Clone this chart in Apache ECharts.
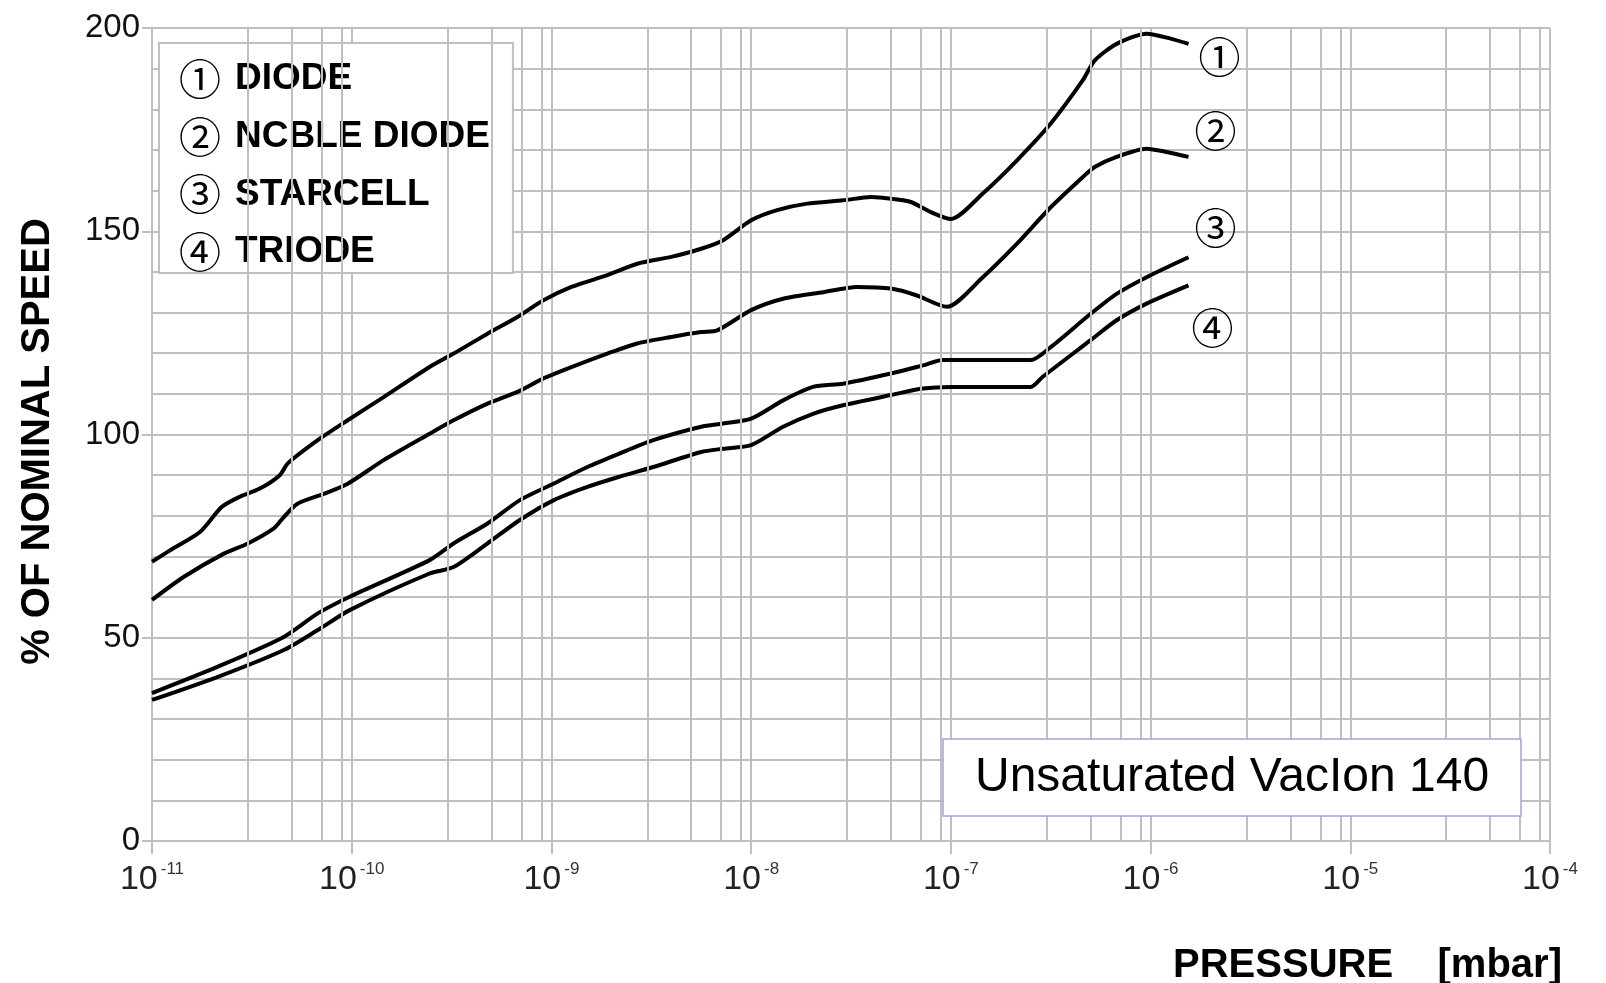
<!DOCTYPE html>
<html><head><meta charset="utf-8">
<script src="https://cdn.jsdelivr.net/npm/echarts@6/dist/echarts.min.js"></script>
<style>html,body{margin:0;padding:0;background:#fff}#c{width:1606px;height:983px}</style>
</head><body><div id="c"></div>
<script>
// x = log10(pressure in mbar), y = % of nominal speed
const seriesNames = ['DIODE', 'NCBLE DIODE', 'STARCELL', 'TRIODE'];
const seriesMarks = ['①', '②', '③', '④'];
const diode = [[-11,68.7],[-10.91,71.5],[-10.76,76],[-10.65,82.2],[-10.56,84.7],[-10.46,86.7],[-10.36,90],[-10.32,92.9],[-10.17,98.6],[-10.02,103.5],[-9.84,109.2],[-9.61,116.6],[-9.49,119.9],[-9.32,124.8],[-9.17,128.9],[-9.04,133],[-8.9,136.3],[-8.72,139.2],[-8.57,142],[-8.4,143.7],[-8.25,145.7],[-8.14,147.8],[-8.0,152.7],[-7.87,155.2],[-7.72,156.8],[-7.54,157.6],[-7.4,158.4],[-7.3,158],[-7.2,157.2],[-7.1,154.7],[-7.0,153],[-6.84,159.3],[-6.67,167.4],[-6.5,176.5],[-6.34,187.1],[-6.28,192],[-6.17,196.1],[-6.02,198.6],[-5.9,197.4],[-5.81,196.1]];
const nobleDiode = [[-11,59.3],[-10.84,65],[-10.64,70.7],[-10.52,73.2],[-10.39,76.9],[-10.34,79.7],[-10.27,83],[-10.14,85.4],[-10.02,87.9],[-9.84,93.7],[-9.61,100.2],[-9.49,103.5],[-9.32,107.6],[-9.17,110.5],[-9.04,113.8],[-8.9,116.6],[-8.72,119.9],[-8.57,122.4],[-8.4,124],[-8.25,125.2],[-8.17,125.6],[-8.0,130.6],[-7.84,133.4],[-7.64,135],[-7.47,136.3],[-7.3,135.9],[-7.17,134.2],[-7.02,131.4],[-6.84,138.7],[-6.67,146.9],[-6.5,155.9],[-6.34,163.3],[-6.28,165.8],[-6.17,168.3],[-6.02,170.3],[-5.92,169.5],[-5.81,168.3]];
const starcell = [[-11,36.4],[-10.67,42.9],[-10.34,50.2],[-10.17,56],[-10.01,60.1],[-9.61,69.1],[-9.49,73.2],[-9.32,78.1],[-9.16,83.8],[-8.99,87.9],[-8.82,92],[-8.66,95.3],[-8.49,98.6],[-8.25,101.9],[-8.14,102.7],[-8.0,103.9],[-7.84,108.4],[-7.69,111.7],[-7.54,112.5],[-7.3,115],[-7.14,117],[-7.04,118.3],[-6.6,118.3],[-6.5,121.5],[-6.3,129.7],[-6.17,134.6],[-6.02,138.7],[-5.81,143.6]];
const triode = [[-11,34.7],[-10.67,40.4],[-10.34,47],[-10.17,51.9],[-10.01,56.8],[-9.61,65.8],[-9.49,67.4],[-9.32,73.2],[-9.16,78.9],[-8.99,83.8],[-8.82,87.1],[-8.66,89.6],[-8.49,92],[-8.25,95.7],[-8.14,96.5],[-8.0,97.4],[-7.84,101.9],[-7.69,105.1],[-7.54,107.2],[-7.3,109.7],[-7.14,111.3],[-7.0,111.7],[-6.6,111.7],[-6.54,114.2],[-6.3,123.2],[-6.17,128.1],[-6.02,132.2],[-5.81,136.7]];
const decadeMin = -11, decadeMax = -4;
const minorMultipliers = [3, 5, 7, 9];
const boxLabel = 'Unsaturated VacIon 140';
const xTitle = 'PRESSURE    [mbar]';
const yTitle = '% OF NOMINAL SPEED';

const FONT = "'Liberation Sans', Arial, sans-serif";
const CIRC = "'Noto Sans CJK JP', 'DejaVu Sans', sans-serif";
const GRID = '#bfbfbf';
const curves = [diode, nobleDiode, starcell, triode];
const endOffsets = [[31, 13], [27, -26], [27, -29], [24, 43]];

const minorLines = [];
for (let d = decadeMin; d < decadeMax; d++) {
  for (const m of minorMultipliers) minorLines.push({ xAxis: d + Math.log10(m) });
}

const chart = echarts.init(document.getElementById('c'), null, { renderer: 'canvas' });
chart.setOption({
  animation: false,
  backgroundColor: '#fff',
  grid: { left: 152, right: 56, top: 28, bottom: 142 },
  title: [
    { text: boxLabel, left: 943, top: 739, padding: [15, 32, 14, 32], borderColor: '#a3a3e0', borderWidth: 1.5,
      backgroundColor: '#fff', textStyle: { fontFamily: FONT, fontWeight: 'normal', fontSize: 48, color: '#000', lineHeight: 48 } },
    { text: xTitle, right: 44, top: 946, padding: 0,
      textStyle: { fontFamily: FONT, fontWeight: 'bold', fontSize: 40, color: '#000' } }
  ],
  legend: {
    data: seriesNames, orient: 'vertical', left: 159, top: 43, padding: [15, 23, 0, 15], itemGap: 15.7,
    itemWidth: 0, itemHeight: 0, icon: 'rect', selectedMode: false,
    backgroundColor: '#fff', borderColor: GRID, borderWidth: 2,
    formatter: name => `{c|${seriesMarks[seriesNames.indexOf(name)]}}{t|${name}}`,
    textStyle: {
      color: '#000',
      rich: {
        c: { fontFamily: CIRC, fontSize: 42, lineHeight: 30, color: '#000', padding: [0, 14, 0, 0] },
        t: { fontFamily: FONT, fontWeight: 'bold', fontSize: 37, lineHeight: 30, color: '#000' }
      }
    }
  },
  xAxis: {
    type: 'value', min: decadeMin, max: decadeMax, interval: 1,
    axisLine: { show: true, lineStyle: { color: GRID, width: 2 } },
    axisTick: { show: true, length: 13, lineStyle: { color: GRID, width: 2 } },
    splitLine: { show: true, lineStyle: { color: GRID, width: 2 } },
    axisLabel: {
      margin: 20,
      formatter: v => `{b|10}{s|-${Math.abs(v)}}`,
      rich: {
        b: { fontFamily: FONT, fontSize: 34, color: '#222' },
        s: { fontFamily: FONT, fontSize: 17, color: '#333', padding: [0, 0, 20, 3] }
      }
    }
  },
  yAxis: {
    type: 'value', min: 0, max: 200, interval: 50,
    name: yTitle, nameLocation: 'middle', nameGap: 94, nameRotate: 90,
    nameTextStyle: { fontFamily: FONT, fontWeight: 'bold', fontSize: 40, color: '#000', padding: [0, 14, 0, 0] },
    axisLine: { show: true, lineStyle: { color: GRID, width: 2 } },
    axisTick: { show: true, length: 10, lineStyle: { color: GRID, width: 2 } },
    axisLabel: { margin: 12, fontFamily: FONT, fontSize: 33, color: '#111' },
    splitLine: { show: true, lineStyle: { color: GRID, width: 2 } },
    minorTick: { show: false, splitNumber: 5 },
    minorSplitLine: { show: true, lineStyle: { color: GRID, width: 2 } }
  },
  series: [
    { type: 'line', data: [], z: 1, silent: true,
      markLine: { silent: true, symbol: 'none', animation: false, label: { show: false },
        lineStyle: { color: GRID, width: 2, type: 'solid' }, emphasis: { disabled: true }, data: minorLines } },
    ...curves.map((d, i) => ({
      name: seriesNames[i], type: 'line', data: d, z: 3, showSymbol: false, smooth: 0.25,
      lineStyle: { color: '#000', width: 4 }, itemStyle: { color: '#000' },
      emphasis: { disabled: true },
      endLabel: { show: true, formatter: seriesMarks[i], fontFamily: CIRC, fontSize: 42, color: '#000',
        distance: 0, align: 'center', verticalAlign: 'middle', offset: endOffsets[i] }
    }))
  ]
});
</script></body></html>
